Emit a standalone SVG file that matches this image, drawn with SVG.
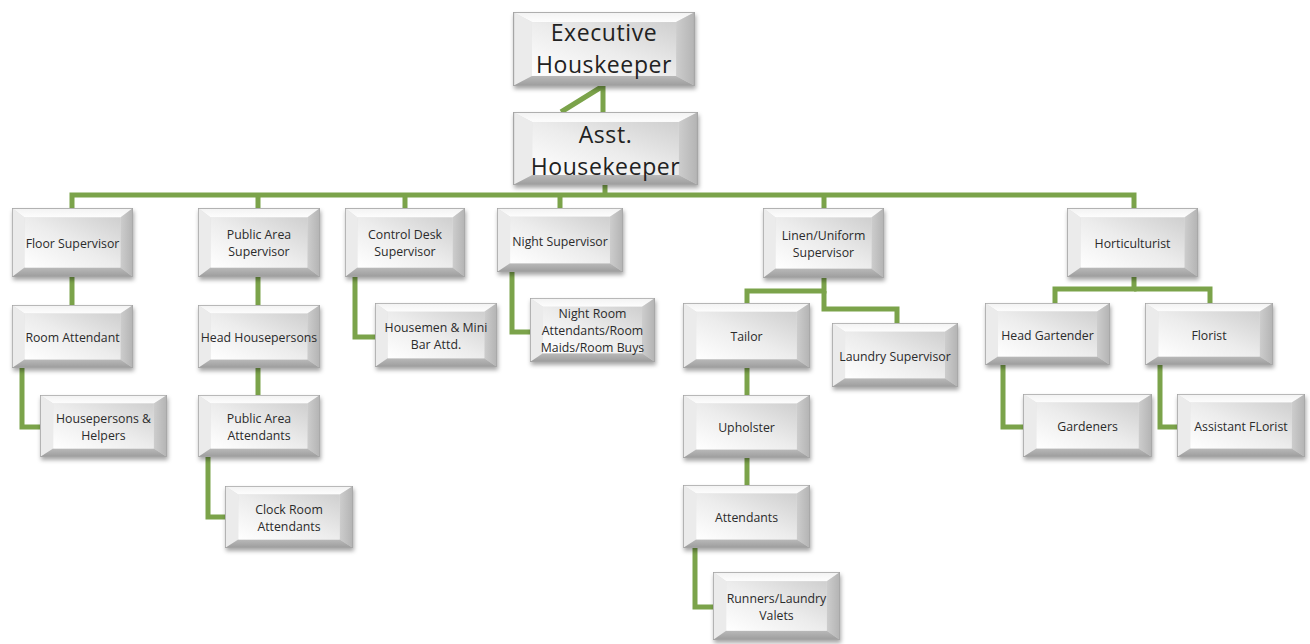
<svg xmlns="http://www.w3.org/2000/svg" xmlns:xlink="http://www.w3.org/1999/xlink" width="1310" height="644" viewBox="0 0 1310 644">
<style>
.conn{fill:none;stroke:#7ba34a;stroke-width:5;stroke-linejoin:miter;stroke-linecap:butt}
.t{font-family:"Open Sans","Liberation Sans",sans-serif;font-size:12.3px;fill:#2b2b2b;text-anchor:middle}
.big{font-size:23px;letter-spacing:0.6px;fill:#222}
.box{filter:url(#sh)}
</style>
<defs>
<filter id="sh" x="-10%" y="-10%" width="125%" height="140%">
<feDropShadow dx="1" dy="3" stdDeviation="2.2" flood-color="#000" flood-opacity="0.35"/>
</filter>
<linearGradient id="face" x1="1" y1="0" x2="0" y2="1">
<stop offset="0" stop-color="#cfcfcf"/>
<stop offset="0.5" stop-color="#ececec"/>
<stop offset="1" stop-color="#ffffff"/>
</linearGradient>
<linearGradient id="topb" x1="0" y1="0" x2="0" y2="1">
<stop offset="0" stop-color="#f2f2f2"/>
<stop offset="1" stop-color="#fdfdfd"/>
</linearGradient>
<linearGradient id="botb" x1="0" y1="0" x2="0" y2="1">
<stop offset="0" stop-color="#b9b9b9"/>
<stop offset="1" stop-color="#9c9c9c"/>
</linearGradient>
<linearGradient id="rgtb" x1="0" y1="0" x2="1" y2="0">
<stop offset="0" stop-color="#cdcdcd"/>
<stop offset="1" stop-color="#b3b3b3"/>
</linearGradient>
<symbol id="bev" viewBox="0 0 125 66" preserveAspectRatio="none">
<rect x="0" y="0" width="125" height="66" fill="#e0e0e0"/>
<polygon points="0,0 125,0 112,9 13,9" fill="url(#topb)"/>
<polygon points="0,0 13,9 13,57 0,66" fill="#ebebeb"/>
<polygon points="125,0 125,66 112,57 112,9" fill="url(#rgtb)"/>
<polygon points="0,66 13,57 112,57 125,66" fill="url(#botb)"/>
<rect x="13" y="9" width="99" height="48" fill="url(#face)"/>
<rect x="0.4" y="0.4" width="124.2" height="65.2" fill="none" stroke="#a6a6a6" stroke-width="0.8"/>
</symbol>
</defs>
<rect width="1310" height="644" fill="#ffffff"/>

<g id="connectors">
<path class="conn" d="M603,86 V112 M603,86 L561,112"/>
<path class="conn" d="M605,185 V195"/>
<path class="conn" d="M72,208 V195 H1134 V208 M258,195 V208 M405,195 V208 M560,195 V208 M824,195 V208"/>
<path class="conn" d="M72,277 V305"/>
<path class="conn" d="M22,368 V427 H40"/>
<path class="conn" d="M258,277 V305"/>
<path class="conn" d="M258,368 V395"/>
<path class="conn" d="M208,457 V517 H225"/>
<path class="conn" d="M355,277 V337 H375"/>
<path class="conn" d="M512,272 V332 H530"/>
<path class="conn" d="M824,278 V291 H747 V303"/>
<path class="conn" d="M824,291 V309 H897 V323"/>
<path class="conn" d="M747,368 V395"/>
<path class="conn" d="M747,458 V485"/>
<path class="conn" d="M695,548 V607 H713"/>
<path class="conn" d="M1134,277 V289 H1055 V303"/>
<path class="conn" d="M1134,289 H1210 V303"/>
<path class="conn" d="M1003,365 V427 H1023"/>
<path class="conn" d="M1160,365 V427 H1177"/>
</g>

<g id="exec"><use class="box" href="#bev" x="513" y="12" width="182" height="74"/>
<text class="t big" x="604" y="41">Executive</text><text class="t big" x="604" y="73">Houskeeper</text></g>
<g id="asst"><use class="box" href="#bev" x="513" y="112" width="185" height="73"/>
<text class="t big" x="605.5" y="143">Asst.</text><text class="t big" x="605.5" y="175">Housekeeper</text></g>

<g id="floor"><use class="box" href="#bev" x="12" y="208" width="121" height="69"/>
<text class="t" x="72.5" y="248">Floor Supervisor</text></g>
<g id="pubsup"><use class="box" href="#bev" x="198" y="208" width="122" height="69"/>
<text class="t" x="259" y="239">Public Area</text><text class="t" x="259" y="256">Supervisor</text></g>
<g id="ctrl"><use class="box" href="#bev" x="345" y="208" width="120" height="69"/>
<text class="t" x="405" y="239">Control Desk</text><text class="t" x="405" y="256">Supervisor</text></g>
<g id="night"><use class="box" href="#bev" x="497" y="208" width="126" height="64"/>
<text class="t" x="560" y="245.5">Night Supervisor</text></g>
<g id="linen"><use class="box" href="#bev" x="763" y="208" width="121" height="70"/>
<text class="t" x="823.5" y="239.5">Linen/Uniform</text><text class="t" x="823.5" y="256.5">Supervisor</text></g>
<g id="hort"><use class="box" href="#bev" x="1067" y="208" width="131" height="69"/>
<text class="t" x="1132.5" y="248">Horticulturist</text></g>

<g id="room"><use class="box" href="#bev" x="12" y="305" width="121" height="63"/>
<text class="t" x="72.5" y="342">Room Attendant</text></g>
<g id="headhp"><use class="box" href="#bev" x="198" y="305" width="122" height="63"/>
<text class="t" x="259" y="342">Head Housepersons</text></g>
<g id="hphelp"><use class="box" href="#bev" x="40" y="395" width="127" height="62"/>
<text class="t" x="103.5" y="422.5">Housepersons &amp;</text><text class="t" x="103.5" y="439.5">Helpers</text></g>
<g id="pubatt"><use class="box" href="#bev" x="198" y="395" width="122" height="62"/>
<text class="t" x="259" y="422.5">Public Area</text><text class="t" x="259" y="439.5">Attendants</text></g>
<g id="clock"><use class="box" href="#bev" x="225" y="486" width="128" height="62"/>
<text class="t" x="289" y="513.5">Clock Room</text><text class="t" x="289" y="530.5">Attendants</text></g>
<g id="housemen"><use class="box" href="#bev" x="375" y="303" width="122" height="64"/>
<text class="t" x="436" y="331.5">Housemen &amp; Mini</text><text class="t" x="436" y="348.5">Bar Attd.</text></g>
<g id="nightroom"><use class="box" href="#bev" x="530" y="298" width="125" height="64"/>
<text class="t" x="592.5" y="318">Night Room</text><text class="t" x="592.5" y="335">Attendants/Room</text><text class="t" x="592.5" y="352">Maids/Room Buys</text></g>
<g id="tailor"><use class="box" href="#bev" x="683" y="303" width="127" height="65"/>
<text class="t" x="746.5" y="341">Tailor</text></g>
<g id="laundry"><use class="box" href="#bev" x="832" y="323" width="126" height="64"/>
<text class="t" x="895" y="360.5">Laundry Supervisor</text></g>
<g id="upholster"><use class="box" href="#bev" x="683" y="395" width="127" height="63"/>
<text class="t" x="746.5" y="432">Upholster</text></g>
<g id="attendants"><use class="box" href="#bev" x="683" y="485" width="127" height="63"/>
<text class="t" x="746.5" y="522">Attendants</text></g>
<g id="runners"><use class="box" href="#bev" x="713" y="572" width="127" height="68"/>
<text class="t" x="776.5" y="602.5">Runners/Laundry</text><text class="t" x="776.5" y="619.5">Valets</text></g>
<g id="headgart"><use class="box" href="#bev" x="985" y="303" width="125" height="62"/>
<text class="t" x="1047.5" y="339.5">Head Gartender</text></g>
<g id="florist"><use class="box" href="#bev" x="1145" y="303" width="128" height="62"/>
<text class="t" x="1209" y="339.5">Florist</text></g>
<g id="gardeners"><use class="box" href="#bev" x="1023" y="394" width="129" height="63"/>
<text class="t" x="1087.5" y="431">Gardeners</text></g>
<g id="astflorist"><use class="box" href="#bev" x="1177" y="394" width="128" height="63"/>
<text class="t" x="1241" y="431">Assistant FLorist</text></g>
</svg>
